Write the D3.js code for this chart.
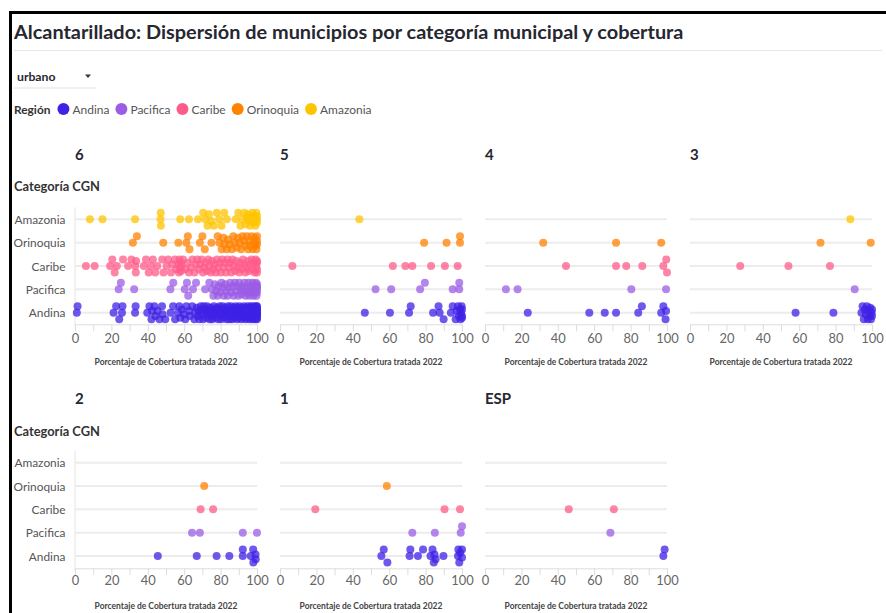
<!DOCTYPE html>
<html><head><meta charset="utf-8">
<script src="https://cdn.jsdelivr.net/npm/d3@7"></script>
<style>
body{margin:0;background:#fff;}
svg{display:block;}
text{font-family:Lato,"Open Sans",sans-serif;}
</style>
</head><body>
<svg id="chart" width="886" height="613"></svg>
<script>
// ---------------- DATA ----------------
const regions = ["Andina","Pacifica","Caribe","Orinoquia","Amazonia"];
const regionColors = ["#3f22e6","#9b5ce6","#ff5c8a","#ff8200","#ffc400"];
const rowOrder = ["Amazonia","Orinoquia","Caribe","Pacifica","Andina"];
const categories = ["6","5","4","3","2","1","ESP"];
const xTickValues = [0,10,20,30,40,50,60,70,80,90,100];
const xTickLabels = [0,20,40,60,80,100];
const titleText = "Alcantarillado: Dispersión de municipios por categoría municipal y cobertura";
const dropdownText = "urbano";
const legendTitle = "Región";
const yAxisTitle = "Categoría CGN";
const xAxisTitle = "Porcentaje de Cobertura tratada 2022";

// Categoría 6
const andina6 = [1.0,1.4,21.2,22.6,24.3,25.8,26.1,33.0,33.3,39.7,40.9,42.0,42.4,43.6,44.2,45.3,46.4,47.8,48.1,49.6,52.5,53.9,55.0,56.6,57.3,57.9,58.7,59.9,60.6,61.2,62.8,63.1,64.4,65.6,66.0,66.9,67.4,68.0,68.3,69.1,69.5,70.0,70.4,70.8,71.3,71.9,72.2,72.6,73.0,73.5,73.9,74.3,74.8,75.0,75.4,75.9,76.3,76.6,77.0,77.5,77.8,78.2,78.7,79.1,79.4,79.9,80.0,80.3,80.8,81.1,81.5,81.9,82.2,82.6,83.0,83.3,83.7,84.0,84.4,84.9,85.0,85.2,85.7,86.1,86.4,86.8,87.0,87.3,87.7,88.0,88.2,88.6,88.9,89.1,89.5,89.8,90.0,90.0,90.3,90.6,90.9,91.2,91.4,91.7,92.0,92.1,92.5,92.8,93.0,93.2,93.5,93.7,94.0,94.1,94.4,94.6,94.9,95.0,95.2,95.4,95.7,95.9,96.0,96.1,96.3,96.6,96.8,97.0,97.1,97.3,97.5,97.7,97.9,98.0,98.1,98.3,98.5,98.6,98.8,99.0,99.0,99.2,99.3,99.5,99.6,99.8,100,100,100,100,100,100,100,100,100,100,100,100];
const pacifica6 = [24.0,25.2,32.5,52.4,54.0,60.3,61.5,62.2,64.8,66.5,71.5,73.8,75.2,76.0,76.9,77.6,78.4,79.0,79.7,80.5,81.2,81.8,82.6,83.1,83.9,84.5,85.3,85.9,86.6,87.2,87.9,88.4,89.1,89.8,90.2,90.9,91.5,92.0,92.6,93.1,93.7,94.2,94.8,95.3,95.8,96.2,96.7,97.1,97.5,97.9,98.3,98.7,99.0,99.4,99.7,100,100,100,100,100];
const caribe6 = [6.0,10.8,19.3,20.5,21.8,23.0,26.4,29.2,31.0,33.1,33.4,33.6,37.8,39.0,40.5,41.6,42.8,44.1,45.2,47.9,48.6,50.3,51.2,52.7,53.5,54.9,55.6,56.8,57.1,57.4,57.7,58.0,58.3,58.6,59.4,60.7,61.9,62.6,63.8,64.5,65.7,66.3,67.2,68.1,68.8,69.6,70.3,71.0,71.8,72.5,73.2,73.9,74.6,75.3,75.9,76.7,77.4,78.0,78.8,79.5,80.1,80.9,81.6,82.3,83.0,83.8,84.5,85.1,85.9,86.6,87.3,88.0,88.7,89.5,90.2,90.8,91.5,92.3,93.0,93.6,94.3,95.0,95.6,96.3,96.9,97.5,98.1,98.7,99.2,99.6,100,100,100,100];
const orinoquia6 = [31.8,34.0,48.5,56.8,61.2,62.0,62.9,68.6,70.0,71.3,75.0,78.4,79.3,80.6,81.5,82.2,83.4,84.1,85.0,86.2,87.0,87.8,88.9,89.6,90.4,91.3,92.0,92.9,93.5,94.4,95.1,95.8,96.4,97.0,97.6,98.2,98.8,99.3,99.7,100,100,100];
const amazonia6 = [8.2,15.1,33.0,47.0,47.1,47.2,57.8,62.6,67.6,70.4,71.5,72.8,73.6,74.9,76.3,77.9,79.2,80.5,82.0,83.4,88.3,89.7,90.9,92.0,93.1,93.8,94.5,95.0,95.6,96.2,96.8,97.4,98.0,98.6,99.1,99.6,100,100,100];
// Categoría 5
const andina5 = [46.6,60.4,70.9,71.8,84.1,87.1,87.7,89.9,93.9,94.9,96.5,97.2,97.8,98.3,98.9,99.2,99.5,99.8,100,100,100];
const pacifica5 = [52.5,61.1,77.0,79.6,94.9,98.5,98.5];
const caribe5 = [6.8,62.0,68.9,72.7,83.0,90.6,97.6];
const orinoquia5 = [79.2,91.5,98.9,98.9];
const amazonia5 = [43.6];
// Categoría 4
const andina4 = [23.5,57.3,65.8,72.0,84.2,86.2,96.8,98.0,99.2,99.5];
const pacifica4 = [11.5,17.9,80.4,99.5];
const caribe4 = [44.5,72.0,77.6,86.4,98.0,99.6,100];
const orinoquia4 = [32.0,72.0,96.8];
const amazonia4 = [];
// Categoría 3
const andina3 = [58.0,78.8,94.2,94.8,95.5,96.0,96.6,97.2,97.7,98.2,98.6,99.0,99.4,99.8,100,100];
const pacifica3 = [90.5];
const caribe3 = [27.6,54.1,76.9];
const orinoquia3 = [71.7,99.3];
const amazonia3 = [88.1];
// Categoría 2
const andina2 = [45.5,66.9,77.8,84.8,92.2,92.2,96.6,97.9,98.0,99.2,99.3];
const pacifica2 = [64.3,68.6,92.2,100];
const caribe2 = [69.0,75.9];
const orinoquia2 = [71.0];
const amazonia2 = [];
// Categoría 1
const andina1 = [55.7,57.0,59.0,71.2,71.6,75.8,78.6,82.7,83.8,84.5,84.9,85.5,89.8,97.8,98.0,98.5,99.0,100,100];
const pacifica1 = [72.7,85.1,99.3,100];
const caribe1 = [19.4,90.4,98.9];
const orinoquia1 = [58.7];
const amazonia1 = [];
// Categoría ESP
const andinaESP = [98.0,98.7];
const pacificaESP = [68.9];
const caribeESP = [46.0,70.8];
const orinoquiaESP = [];
const amazoniaESP = [];

const table = {
  "6":   [andina6, pacifica6, caribe6, orinoquia6, amazonia6],
  "5":   [andina5, pacifica5, caribe5, orinoquia5, amazonia5],
  "4":   [andina4, pacifica4, caribe4, orinoquia4, amazonia4],
  "3":   [andina3, pacifica3, caribe3, orinoquia3, amazonia3],
  "2":   [andina2, pacifica2, caribe2, orinoquia2, amazonia2],
  "1":   [andina1, pacifica1, caribe1, orinoquia1, amazonia1],
  "ESP": [andinaESP, pacificaESP, caribeESP, orinoquiaESP, amazoniaESP]
};

// ---------------- DRAW ----------------
const svg = d3.select("#chart");
const color = d3.scaleOrdinal().domain(regions).range(regionColors);

function fit(t, w){
  const n = t.node();
  const cur = parseFloat(t.style("font-size"));
  const L = n.getComputedTextLength();
  if (L > 0) t.style("font-size", (cur * w / L) + "px");
  return t;
}
function fitSize(str, size, weight, w){
  const t = svg.append("text").style("font-size", size + "px").style("font-weight", weight).text(str);
  const L = t.node().getComputedTextLength();
  t.remove();
  return size * w / L;
}

// frame
svg.append("line").attr("x1",9).attr("x2",886).attr("y1",12.5).attr("y2",12.5).attr("stroke","#000").attr("stroke-width",3);
svg.append("line").attr("x1",10.5).attr("x2",10.5).attr("y1",11).attr("y2",613).attr("stroke","#000").attr("stroke-width",3);

// title
fit(svg.append("text").attr("x",14).attr("y",39).attr("fill","#262730")
  .style("font-size","20px").style("font-weight","700").text(titleText), 670);
svg.append("line").attr("x1",14).attr("x2",882).attr("y1",50.5).attr("y2",50.5).attr("stroke","#e6e6e6").attr("stroke-width",1);

// dropdown
fit(svg.append("text").attr("x",17).attr("y",80.5).attr("fill","#262730")
  .style("font-size","12.5px").style("font-weight","700").text(dropdownText), 38.5);
svg.append("path").attr("d","M85,74.5 L91,74.5 L88,78 Z").attr("fill","#333");
svg.append("line").attr("x1",14).attr("x2",96).attr("y1",88).attr("y2",88).attr("stroke","#e0e0e0").attr("stroke-width",1);

// legend
const lg = svg.append("g");
const lt = fit(lg.append("text").attr("x",14).attr("y",113.5).attr("fill","#333")
  .style("font-size","13px").style("font-weight","700").text(legendTitle), 36.5);
let lx = 14 + lt.node().getComputedTextLength() + 7;
const legendFont = fitSize("Andina", 13, 400, 37);
regions.forEach((r,i) => {
  lg.append("circle").attr("cx", lx + 6).attr("cy", 109).attr("r", 6).attr("fill", color(r));
  const t = lg.append("text").attr("x", lx + 15).attr("y", 113.5).attr("fill","#555")
    .style("font-size", legendFont + "px").text(r);
  lx = lx + 15 + t.node().getComputedTextLength() + 6;
});

// panels
const rowsGeom = [
  {title:160, cat:191, top:219.3, bottom:312.7, axis:324.3, tick:343, axTitle:364.5},
  {title:404, cat:436, top:462.7, bottom:556,   axis:568.3, tick:585.5, axTitle:609}
];
const yLabelFont = fitSize("Orinoquia", 13, 400, 52);
const tickFont = fitSize("100", 13, 400, 22.5);

function dodge(vals, x, y0){
  const pts = vals.map((v,i)=>({v, i, cx:x(v)})).sort((a,b)=>a.cx-b.cx || a.i-b.i);
  const offsets = [0,-6.5,6.5,-3.2,3.2,-5,5,-1.6,1.6];
  const dmin = 6.5;
  const placed = [];
  pts.forEach(p => {
    let best = null, bestD = -1;
    for (const o of offsets){
      let md = Infinity;
      for (const q of placed){
        const dx = q.cx - p.cx; if (Math.abs(dx) >= dmin) continue;
        const dy = q.cy - (y0 + o);
        md = Math.min(md, Math.hypot(dx,dy));
      }
      if (md >= dmin){ best = o; bestD = md; break; }
      if (md > bestD){ bestD = md; best = o; }
    }
    p.cy = y0 + best;
    placed.push(p);
  });
  return pts;
}

categories.forEach((cat, k) => {
  const col = k % 4, row = Math.floor(k / 4);
  const G = rowsGeom[row];
  const x0 = 75 + col * 205, x1 = x0 + 182;
  const x = d3.scaleLinear().domain([0,100]).range([x0, x1]);
  const y = d3.scalePoint().domain(rowOrder).range([G.top, G.bottom]);
  const g = svg.append("g");

  // panel title
  g.append("text").attr("x", x0).attr("y", G.title).attr("fill","#262730")
    .style("font-size","15px").style("font-weight","700").text(cat);

  if (col === 0){
    fit(g.append("text").attr("x",14).attr("y",G.cat).attr("fill","#333")
      .style("font-size","13px").style("font-weight","700").text(yAxisTitle), 86);
    g.append("line").attr("x1",x0).attr("x2",x0).attr("y1",G.top-12).attr("y2",G.axis+2)
      .attr("stroke","#e4e4e4").attr("stroke-width",1);
    g.selectAll(".ylab").data(rowOrder).join("text")
      .attr("x", 65.5).attr("y", d => y(d) + 4.5).attr("text-anchor","end")
      .attr("fill","#555").style("font-size", yLabelFont + "px").text(d => d);
  }

  // gridlines
  g.selectAll(".grid").data(rowOrder).join("line")
    .attr("x1", x0).attr("x2", x1).attr("y1", d => y(d)).attr("y2", d => y(d))
    .attr("stroke","#ececec").attr("stroke-width",2);

  // x axis
  const ax = g.append("g").attr("transform", `translate(0,${G.axis})`)
    .call(d3.axisBottom(x).tickValues(xTickValues).tickSize(7)
      .tickFormat(d => xTickLabels.includes(d) ? d : ""));
  ax.select(".domain").attr("stroke","#dddddd");
  ax.selectAll(".tick line").attr("stroke","#dddddd");
  ax.selectAll(".tick text").attr("y", G.tick - G.axis).attr("dy", null)
    .attr("fill","#666").style("font-size", tickFont + "px").style("font-family","Lato, sans-serif");

  // axis title
  fit(g.append("text").attr("x", (x0 + x1) / 2).attr("y", G.axTitle).attr("text-anchor","middle")
    .attr("fill","#444").style("font-size","9px").style("font-weight","700").text(xAxisTitle), 143);

  // points
  regions.forEach((r, ri) => {
    const vals = table[cat][ri];
    const pts = dodge(vals, x, y(r));
    g.append("g").selectAll("circle").data(pts).join("circle")
      .attr("cx", d => d.cx).attr("cy", d => d.cy).attr("r", 4)
      .attr("fill", color(r)).attr("fill-opacity", 0.75);
  });
});
</script>
</body></html>
